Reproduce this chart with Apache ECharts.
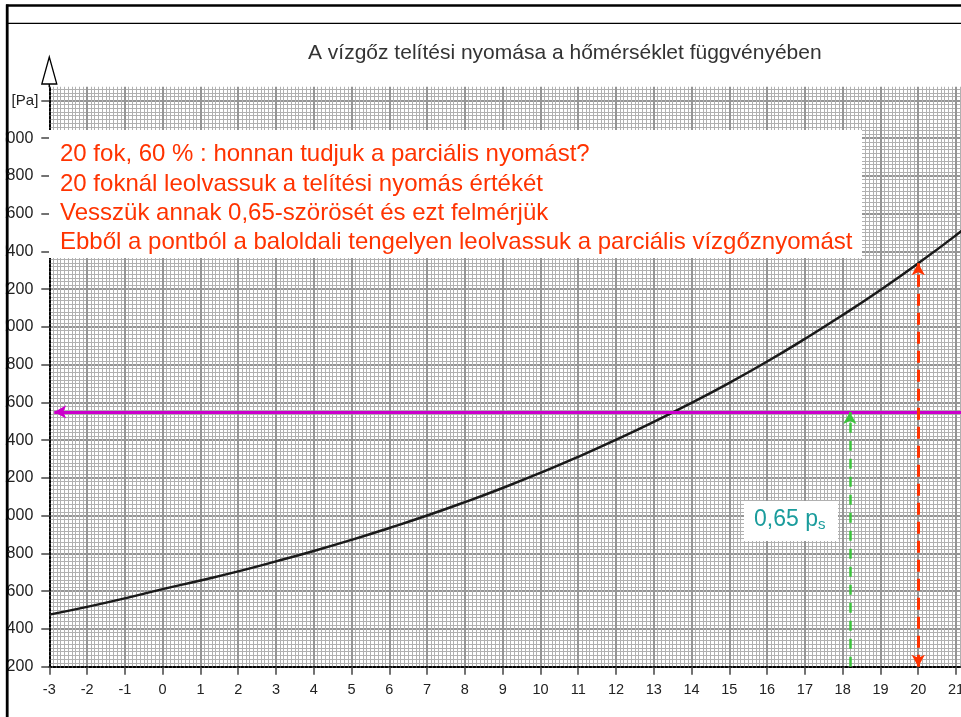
<!DOCTYPE html>
<html><head><meta charset="utf-8">
<script src="https://cdn.jsdelivr.net/npm/echarts@6/dist/echarts.min.js"></script>
<style>html,body{margin:0;padding:0;background:#fff}#c{width:961px;height:717px}</style>
</head><body><div id="c"></div>
<script>
// ---- data ----
const temperatures = [-3,-2,-1,0,1,2,3,4,5,6,7,8,9,10,11,12,13,14,15,16,17,18,19,20,21,22];
const saturationPressure = [476,517,562,611,657,705,758,813,872,935,1001,1072,1147,1227,1312,1402,1497,1598,1704,1817,1937,2063,2196,2337,2486,2643];
const xMin = -3, xMax = 22, xInterval = 1;
const yMin = 200, yMax = 3300, yInterval = 200, yTopVisible = 3270;
const yUnitTick = 3200, yUnitLabel = '[Pa]';
const partialLevel = 1550;      // magenta horizontal line
const partialX = 18.19;         // green dashed vertical
const readX = 20;               // red dashed vertical
const readTop = 2337;           // saturation pressure at 20 °C
const titleText = 'A vízgőz telítési nyomása a hőmérséklet függvényében';
const noteLines = [
  '20 fok, 60 % : honnan tudjuk a parciális nyomást?',
  '20 foknál leolvassuk a telítési nyomás értékét',
  'Vesszük annak 0,65-szörösét és ezt felmérjük',
  'Ebből a pontból a baloldali tengelyen leolvassuk a parciális vízgőznyomást'
];
const psLabel = '0,65 p';
const psSub = 's';

const FONT = 'Liberation Sans, Arial, sans-serif';
const chart = echarts.init(document.getElementById('c'), null, {renderer:'canvas'});
const curve = temperatures.map((t,i)=>[t, saturationPressure[i]]);

const option = {
  animation:false,
  backgroundColor:'#fff',
  grid:{left:49.3, top:81.6, width:944.5, height:585.1, containLabel:false, outerBoundsMode:'none'},
  xAxis:{
    type:'value', min:xMin, max:xMax, interval:xInterval,
    axisLine:{show:true, onZero:false, lineStyle:{color:'#000', width:2, type:[2,2]}},
    axisTick:{show:true, length:8, lineStyle:{color:'#444', width:1.5}},
    axisLabel:{fontSize:14.5, color:'#222', fontFamily:FONT, margin:16,
      formatter:v=> (v<=21 ? String(v) : '')},
    splitLine:{show:true, lineStyle:{color:'#959595', width:2}},
    minorTick:{show:false, splitNumber:10},
    minorSplitLine:{show:true, lineStyle:{color:'#b0b0b0', width:1}}
  },
  yAxis:{
    type:'value', min:yMin, max:yMax, interval:yInterval,
    axisLine:{show:true, onZero:false, lineStyle:{color:'#000', width:2, type:[2,2]}},
    axisTick:{show:true, length:8, lineStyle:{color:'#444', width:1.5}},
    axisLabel:{fontSize:16, color:'#222', fontFamily:FONT, margin:16, showMaxLabel:false,
      formatter:v=> v>=yUnitTick ? '' : String(v)},
    splitLine:{show:true, lineStyle:{color:'#959595', width:2}},
    minorTick:{show:false, splitNumber:10},
    minorSplitLine:{show:true, lineStyle:{color:'#b0b0b0', width:1}}
  },
  series:[{
    type:'line', data:curve, smooth:true, showSymbol:false, symbol:'none',
    lineStyle:{color:'#1a1a1a', width:2.5}, z:5,
    markLine:{
      silent:true, animation:false, symbolSize:[10,12], label:{show:false}, z:6,
      data:[
        [{coord:[xMin+0.13, partialLevel], symbol:'arrow', lineStyle:{color:'#cc00cc', width:3, type:'solid'}},
         {coord:[xMax, partialLevel], symbol:'none'}],
        [{coord:[partialX, yMin], symbol:'none', lineStyle:{color:'#3cc43c', width:2.5, type:[10,8]}},
         {coord:[partialX, partialLevel], symbol:'arrow'}],
        [{coord:[readX, yMin], symbol:'arrow', lineStyle:{color:'#ff3300', width:3, type:[12,7]}},
         {coord:[readX, readTop], symbol:'arrow'}]
      ]
    }
  }]
};
chart.setOption(option);

const topPx = chart.convertToPixel({gridIndex:0}, [xMin, yMax]);
const cutPx = chart.convertToPixel({gridIndex:0}, [xMin, yTopVisible]);
const unitPx = chart.convertToPixel({gridIndex:0}, [xMin, yUnitTick]);
const ax = topPx[0];
chart.setOption({graphic:[
  // hide grid above the visible top
  {type:'rect', shape:{x:ax-1, y:topPx[1]-2, width:961, height:cutPx[1]-topPx[1]+1.5}, style:{fill:'#fff'}, z:50},
  // axis arrow
  {type:'polygon', shape:{points:[[ax,57],[ax-7.5,84],[ax+7.5,84]]}, style:{fill:'#fff', stroke:'#000', lineWidth:1.3}, z:60},
  {type:'line', shape:{x1:ax, y1:84, x2:ax, y2:cutPx[1]}, style:{stroke:'#000', lineWidth:1.5}, z:60},
  // unit label at the 3200 tick
  {type:'text', x:ax-11, y:unitPx[1], style:{text:yUnitLabel, font:'15px '+FONT, fill:'#222', align:'right', verticalAlign:'middle'}, z:60},
  // page frame lines
  {type:'line', shape:{x1:6, y1:5.5, x2:961, y2:5.5}, style:{stroke:'#000', lineWidth:2.5}, z:60},
  {type:'line', shape:{x1:7, y1:23.3, x2:961, y2:23.3}, style:{stroke:'#000', lineWidth:1.2}, z:60},
  {type:'rect', shape:{x:0, y:0, width:5.8, height:717}, style:{fill:'#fff'}, z:59},
  {type:'line', shape:{x1:7.2, y1:4.5, x2:7.2, y2:717}, style:{stroke:'#000', lineWidth:2.8}, z:60},
  // title
  {type:'text', left:308, top:43, style:{text:titleText, font:'21px '+FONT, fill:'#333'}, z:60},
  // note box
  {type:'rect', shape:{x:49, y:130, width:813, height:128}, style:{fill:'#fff'}, z:40},
  {type:'text', left:60, top:140, style:{text:noteLines.join('\n'), font:'24px '+FONT, fill:'#ff3300', lineHeight:29.3}, z:41},
  // 0,65 ps box
  {type:'rect', shape:{x:744, y:501, width:94, height:40}, style:{fill:'#fff'}, z:40},
  {type:'text', left:754, top:508, style:{
     text:'{a|'+psLabel+'}{b|'+psSub+'}',
     rich:{a:{font:'23px '+FONT, fill:'#1a9c9c', color:'#1a9c9c'}, b:{font:'15px '+FONT, fill:'#1a9c9c', color:'#1a9c9c', padding:[11,0,0,0]}}
  }, z:41}
]});
</script></body></html>
